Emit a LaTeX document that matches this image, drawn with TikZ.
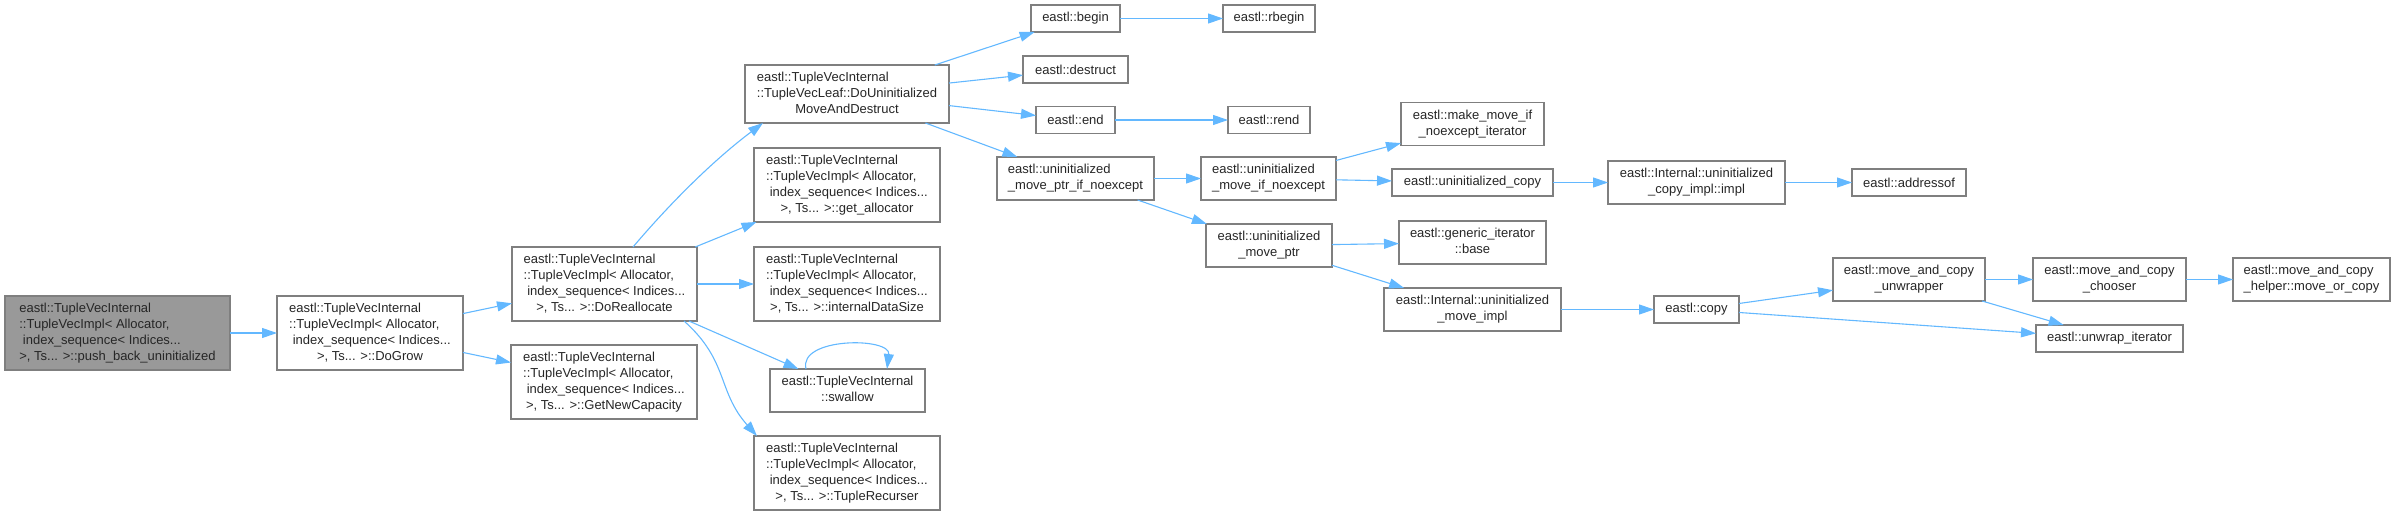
\documentclass[tikz,border=0pt]{standalone}
\usepackage{fontspec}
\setmainfont{Liberation Sans}
\usetikzlibrary{arrows.meta}
\definecolor{edgec}{HTML}{63B8FF}
\definecolor{bordc}{HTML}{7F7F7F}
\definecolor{rootc}{HTML}{999999}
\newcommand{\ml}[2]{\begin{tabular}{@{}l@{}}#1\\\multicolumn{1}{@{}c@{}}{#2}\end{tabular}}
\newcommand{\tvi}{eastl::TupleVecInternal\\::TupleVecImpl< Allocator,\\\ index\_sequence< Indices...}
\begin{document}
\begin{tikzpicture}[x=1pt,y=-1pt,
  box/.style={draw=bordc, line width=1.1pt, fill=white, inner sep=0pt, outer sep=0pt,
    font=\fontsize{13}{16}\selectfont, align=center, text=black!85},
  conn/.style={draw=edgec, line width=1.1pt, -{Triangle[length=15pt,width=10pt]}}]
\useasboundingbox (0,0) rectangle (2395,516);
% rank 0
\node[box, fill=rootc, minimum width=225pt, minimum height=74pt] (push) at (117.5,333)
  {\ml{\tvi}{>, Ts... >::push\_back\_uninitialized}};
% rank 1
\node[box, minimum width=186pt, minimum height=74pt] (DoGrow) at (370,333)
  {\ml{\tvi}{>, Ts... >::DoGrow}};
% rank 2
\node[box, minimum width=185pt, minimum height=74pt] (DoRealloc) at (604.5,284)
  {\ml{\tvi}{>, Ts... >::DoReallocate}};
\node[box, minimum width=186pt, minimum height=74pt] (GetNewCap) at (604,382)
  {\ml{\tvi}{>, Ts... >::GetNewCapacity}};
% rank 3
\node[box, minimum width=204pt, minimum height=58pt] (DoUninit) at (847,94)
  {\ml{eastl::TupleVecInternal\\::TupleVecLeaf::DoUninitialized}{MoveAndDestruct}};
\node[box, minimum width=186pt, minimum height=74pt] (getAlloc) at (847,185)
  {\ml{\tvi}{>, Ts... >::get\_allocator}};
\node[box, minimum width=186pt, minimum height=74pt] (internalDS) at (847,284)
  {\ml{\tvi}{>, Ts... >::internalDataSize}};
\node[box, minimum width=155pt, minimum height=43pt] (swallow) at (847.5,390.5)
  {\ml{eastl::TupleVecInternal}{::swallow}};
\node[box, minimum width=186pt, minimum height=74pt] (TupleRec) at (847,473)
  {\ml{\tvi}{>, Ts... >::TupleRecurser}};
% rank 4
\node[box, minimum width=89pt, minimum height=27pt] (begin) at (1075.5,18.5) {eastl::begin};
\node[box, minimum width=105pt, minimum height=27pt] (destruct) at (1075.5,69.5) {eastl::destruct};
\node[box, minimum width=79pt, minimum height=27pt] (end) at (1075.5,120) {eastl::end};
\node[box, minimum width=157pt, minimum height=43pt] (ptrIfNoex) at (1075.5,178.5)
  {\ml{eastl::uninitialized}{\_move\_ptr\_if\_noexcept}};
% rank 5
\node[box, minimum width=92pt, minimum height=27pt] (rbegin) at (1269,18.5) {eastl::rbegin};
\node[box, minimum width=82pt, minimum height=27pt] (rend) at (1269,120) {eastl::rend};
\node[box, minimum width=135pt, minimum height=43pt] (moveIfNoex) at (1268.5,178.5)
  {\ml{eastl::uninitialized}{\_move\_if\_noexcept}};
\node[box, minimum width=126pt, minimum height=43pt] (movePtr) at (1269,245.5)
  {\ml{eastl::uninitialized}{\_move\_ptr}};
% rank 6
\node[box, minimum width=143pt, minimum height=43pt] (makeMoveIt) at (1472.5,124)
  {\ml{eastl::make\_move\_if}{\_noexcept\_iterator}};
\node[box, minimum width=161pt, minimum height=27pt] (uninitCopy) at (1472.5,182.5)
  {eastl::uninitialized\_copy};
\node[box, minimum width=147pt, minimum height=43pt] (genericBase) at (1472.5,242.5)
  {\ml{eastl::generic\_iterator}{::base}};
\node[box, minimum width=177pt, minimum height=43pt] (moveImpl) at (1472.5,309.5)
  {\ml{eastl::Internal::uninitialized}{\_move\_impl}};
% rank 7
\node[box, minimum width=177pt, minimum height=43pt] (copyImpl) at (1696.5,182.5)
  {\ml{eastl::Internal::uninitialized}{\_copy\_impl::impl}};
\node[box, minimum width=85pt, minimum height=27pt] (copy) at (1696.5,309.5) {eastl::copy};
% rank 8
\node[box, minimum width=114pt, minimum height=27pt] (addressof) at (1909,182.5) {eastl::addressof};
\node[box, minimum width=152pt, minimum height=43pt] (unwrapper) at (1909,279.5)
  {\ml{eastl::move\_and\_copy}{\_unwrapper}};
% rank 9
\node[box, minimum width=153pt, minimum height=43pt] (chooser) at (2109.5,279.5)
  {\ml{eastl::move\_and\_copy}{\_chooser}};
\node[box, minimum width=147pt, minimum height=27pt] (unwrapIt) at (2109.5,338.5)
  {eastl::unwrap\_iterator};
% rank 10
\node[box, minimum width=157pt, minimum height=43pt] (helper) at (2311.5,279.5)
  {\ml{eastl::move\_and\_copy}{\_helper::move\_or\_copy}};
% edges
\draw[conn] (push) -- (DoGrow);
\draw[conn] (DoGrow) -- (DoRealloc);
\draw[conn] (DoGrow) -- (GetNewCap);
\draw[conn] ([xshift=28.5pt]DoRealloc.north) .. controls +(39,-46) and +(-48,36) .. ([xshift=-84pt]DoUninit.south);
\draw[conn] (DoRealloc) -- (getAlloc);
\draw[conn] (DoRealloc) -- (internalDS);
\draw[conn] (DoRealloc) -- (swallow);
\draw[conn] ([xshift=79.5pt]DoRealloc.south) .. controls +(45,40) and +(-40,-45) .. ([xshift=-90pt]TupleRec.north);
\draw[conn] ([xshift=-41.5pt]swallow.north) .. controls +(-8,-32) and +(4,-32) .. ([xshift=39.5pt]swallow.north);
\draw[conn] (DoUninit) -- (begin);
\draw[conn] (DoUninit) -- (destruct);
\draw[conn] (DoUninit) -- (end);
\draw[conn] (DoUninit) -- (ptrIfNoex);
\draw[conn] (begin) -- (rbegin);
\draw[conn] (end) -- (rend);
\draw[conn] (ptrIfNoex) -- (moveIfNoex);
\draw[conn] (ptrIfNoex) -- (movePtr);
\draw[conn] (moveIfNoex) -- (makeMoveIt);
\draw[conn] (moveIfNoex) -- (uninitCopy);
\draw[conn] (uninitCopy) -- (copyImpl);
\draw[conn] (copyImpl) -- (addressof);
\draw[conn] (movePtr) -- (genericBase);
\draw[conn] (movePtr) -- (moveImpl);
\draw[conn] (moveImpl) -- (copy);
\draw[conn] (copy) -- (unwrapper);
\draw[conn] (copy) -- (unwrapIt);
\draw[conn] (unwrapper) -- (chooser);
\draw[conn] (unwrapper) -- (unwrapIt);
\draw[conn] (chooser) -- (helper);
\end{tikzpicture}
\end{document}
